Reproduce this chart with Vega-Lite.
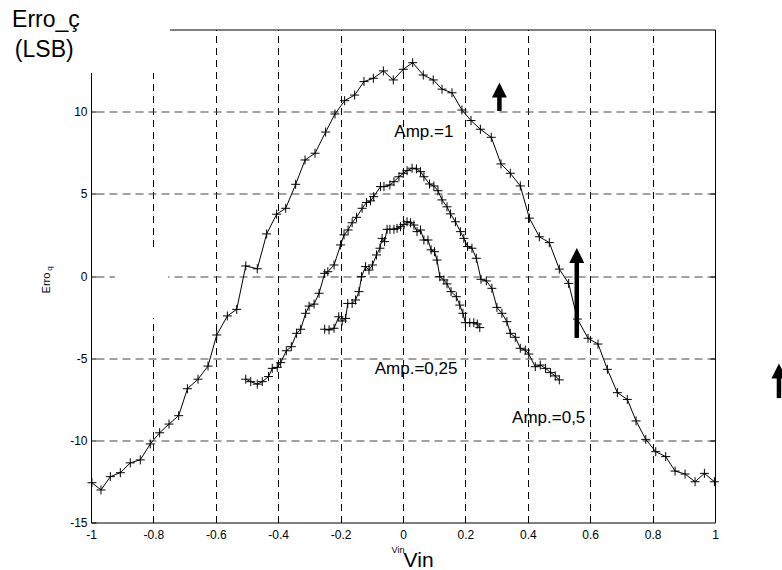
{
"$schema": "https://vega.github.io/schema/vega-lite/v6.json",
"width": 624, "height": 493,
"autosize": {"type": "none"},
"padding": {"left": 91, "top": 29.5, "right": 67, "bottom": 47.5},
"background": "white",
"config": {"view": {"stroke": null}, "font": "Liberation Sans"},
"datasets": {
"curves": [
{"amp":"1","x":-0.997,"y":-12.58},{"amp":"1","x":-0.968,"y":-13.02},{"amp":"1","x":-0.938,"y":-12.21},{"amp":"1","x":-0.906,"y":-11.97},{"amp":"1","x":-0.874,"y":-11.37},{"amp":"1","x":-0.842,"y":-11.19},{"amp":"1","x":-0.81,"y":-10.22},{"amp":"1","x":-0.78,"y":-9.54},{"amp":"1","x":-0.75,"y":-9.01},{"amp":"1","x":-0.719,"y":-8.5},{"amp":"1","x":-0.691,"y":-6.86},{"amp":"1","x":-0.657,"y":-6.28},{"amp":"1","x":-0.625,"y":-5.48},{"amp":"1","x":-0.597,"y":-3.59},{"amp":"1","x":-0.563,"y":-2.43},{"amp":"1","x":-0.533,"y":-2.03},{"amp":"1","x":-0.504,"y":0.61},{"amp":"1","x":-0.467,"y":0.44},{"amp":"1","x":-0.437,"y":2.56},{"amp":"1","x":-0.405,"y":3.76},{"amp":"1","x":-0.376,"y":4.12},{"amp":"1","x":-0.344,"y":5.58},{"amp":"1","x":-0.314,"y":7.06},{"amp":"1","x":-0.282,"y":7.47},{"amp":"1","x":-0.248,"y":8.76},{"amp":"1","x":-0.218,"y":9.86},{"amp":"1","x":-0.187,"y":10.67},{"amp":"1","x":-0.155,"y":11.01},{"amp":"1","x":-0.125,"y":11.83},{"amp":"1","x":-0.095,"y":12.03},{"amp":"1","x":-0.063,"y":12.48},{"amp":"1","x":-0.031,"y":11.93},{"amp":"1","x":0.001,"y":12.58},{"amp":"1","x":0.031,"y":12.98},{"amp":"1","x":0.065,"y":12.23},{"amp":"1","x":0.097,"y":11.93},{"amp":"1","x":0.125,"y":11.37},{"amp":"1","x":0.157,"y":11.15},{"amp":"1","x":0.189,"y":10.1},{"amp":"1","x":0.218,"y":9.46},{"amp":"1","x":0.248,"y":8.93},{"amp":"1","x":0.283,"y":8.44},{"amp":"1","x":0.314,"y":6.82},{"amp":"1","x":0.344,"y":6.25},{"amp":"1","x":0.376,"y":5.48},{"amp":"1","x":0.405,"y":3.52},{"amp":"1","x":0.437,"y":2.39},{"amp":"1","x":0.469,"y":2.03},{"amp":"1","x":0.501,"y":0.42},{"amp":"1","x":0.531,"y":-0.45},{"amp":"1","x":0.559,"y":-2.62},{"amp":"1","x":0.593,"y":-3.79},{"amp":"1","x":0.625,"y":-4.14},{"amp":"1","x":0.655,"y":-5.68},{"amp":"1","x":0.687,"y":-7.1},{"amp":"1","x":0.719,"y":-7.51},{"amp":"1","x":0.747,"y":-8.82},{"amp":"1","x":0.778,"y":-9.94},{"amp":"1","x":0.81,"y":-10.69},{"amp":"1","x":0.842,"y":-10.99},{"amp":"1","x":0.872,"y":-11.87},{"amp":"1","x":0.904,"y":-12.05},{"amp":"1","x":0.936,"y":-12.52},{"amp":"1","x":0.966,"y":-12.01},{"amp":"1","x":0.998,"y":-12.52},
{"amp":"0.5","x":-0.504,"y":-6.28},{"amp":"0.5","x":-0.488,"y":-6.43},{"amp":"0.5","x":-0.467,"y":-6.58},{"amp":"0.5","x":-0.451,"y":-6.43},{"amp":"0.5","x":-0.431,"y":-6.12},{"amp":"0.5","x":-0.419,"y":-5.62},{"amp":"0.5","x":-0.403,"y":-5.56},{"amp":"0.5","x":-0.392,"y":-5.27},{"amp":"0.5","x":-0.374,"y":-4.55},{"amp":"0.5","x":-0.358,"y":-4.3},{"amp":"0.5","x":-0.341,"y":-3.49},{"amp":"0.5","x":-0.328,"y":-3.24},{"amp":"0.5","x":-0.312,"y":-2.27},{"amp":"0.5","x":-0.301,"y":-1.83},{"amp":"0.5","x":-0.285,"y":-1.71},{"amp":"0.5","x":-0.269,"y":-1.05},{"amp":"0.5","x":-0.251,"y":0.16},{"amp":"0.5","x":-0.241,"y":0.26},{"amp":"0.5","x":-0.221,"y":0.67},{"amp":"0.5","x":-0.2,"y":1.89},{"amp":"0.5","x":-0.189,"y":2.5},{"amp":"0.5","x":-0.176,"y":2.8},{"amp":"0.5","x":-0.163,"y":3.24},{"amp":"0.5","x":-0.149,"y":3.57},{"amp":"0.5","x":-0.131,"y":4.12},{"amp":"0.5","x":-0.117,"y":4.47},{"amp":"0.5","x":-0.104,"y":4.57},{"amp":"0.5","x":-0.094,"y":4.83},{"amp":"0.5","x":-0.072,"y":5.44},{"amp":"0.5","x":-0.061,"y":5.44},{"amp":"0.5","x":-0.042,"y":5.54},{"amp":"0.5","x":-0.029,"y":5.74},{"amp":"0.5","x":-0.013,"y":6.04},{"amp":"0.5","x":0.001,"y":6.25},{"amp":"0.5","x":0.013,"y":6.41},{"amp":"0.5","x":0.029,"y":6.56},{"amp":"0.5","x":0.043,"y":6.52},{"amp":"0.5","x":0.056,"y":6.35},{"amp":"0.5","x":0.067,"y":6.04},{"amp":"0.5","x":0.085,"y":5.6},{"amp":"0.5","x":0.099,"y":5.48},{"amp":"0.5","x":0.112,"y":5.19},{"amp":"0.5","x":0.125,"y":4.63},{"amp":"0.5","x":0.141,"y":4.21},{"amp":"0.5","x":0.152,"y":3.78},{"amp":"0.5","x":0.168,"y":3.3},{"amp":"0.5","x":0.184,"y":2.7},{"amp":"0.5","x":0.195,"y":2.29},{"amp":"0.5","x":0.207,"y":1.79},{"amp":"0.5","x":0.221,"y":1.69},{"amp":"0.5","x":0.235,"y":1.08},{"amp":"0.5","x":0.25,"y":-0.2},{"amp":"0.5","x":0.267,"y":-0.3},{"amp":"0.5","x":0.285,"y":-0.75},{"amp":"0.5","x":0.301,"y":-1.91},{"amp":"0.5","x":0.317,"y":-2.27},{"amp":"0.5","x":0.333,"y":-2.78},{"amp":"0.5","x":0.344,"y":-3.49},{"amp":"0.5","x":0.36,"y":-3.73},{"amp":"0.5","x":0.376,"y":-4.4},{"amp":"0.5","x":0.392,"y":-4.51},{"amp":"0.5","x":0.403,"y":-4.75},{"amp":"0.5","x":0.424,"y":-5.52},{"amp":"0.5","x":0.44,"y":-5.42},{"amp":"0.5","x":0.457,"y":-5.62},{"amp":"0.5","x":0.473,"y":-5.88},{"amp":"0.5","x":0.488,"y":-6.08},{"amp":"0.5","x":0.501,"y":-6.32},
{"amp":"0.25","x":-0.251,"y":-3.24},{"amp":"0.25","x":-0.237,"y":-3.28},{"amp":"0.25","x":-0.221,"y":-3.18},{"amp":"0.25","x":-0.206,"y":-2.48},{"amp":"0.25","x":-0.195,"y":-2.74},{"amp":"0.25","x":-0.184,"y":-2.58},{"amp":"0.25","x":-0.177,"y":-1.67},{"amp":"0.25","x":-0.163,"y":-1.67},{"amp":"0.25","x":-0.152,"y":-1.46},{"amp":"0.25","x":-0.141,"y":-0.95},{"amp":"0.25","x":-0.133,"y":-0.04},{"amp":"0.25","x":-0.12,"y":0.57},{"amp":"0.25","x":-0.109,"y":0.36},{"amp":"0.25","x":-0.098,"y":0.67},{"amp":"0.25","x":-0.085,"y":1.28},{"amp":"0.25","x":-0.074,"y":1.69},{"amp":"0.25","x":-0.067,"y":2.29},{"amp":"0.25","x":-0.059,"y":2.09},{"amp":"0.25","x":-0.051,"y":2.84},{"amp":"0.25","x":-0.042,"y":2.84},{"amp":"0.25","x":-0.029,"y":2.84},{"amp":"0.25","x":-0.019,"y":2.9},{"amp":"0.25","x":-0.008,"y":3.0},{"amp":"0.25","x":0.003,"y":3.14},{"amp":"0.25","x":0.013,"y":3.3},{"amp":"0.25","x":0.024,"y":3.24},{"amp":"0.25","x":0.035,"y":3.1},{"amp":"0.25","x":0.045,"y":2.7},{"amp":"0.25","x":0.056,"y":2.8},{"amp":"0.25","x":0.067,"y":2.19},{"amp":"0.25","x":0.08,"y":2.19},{"amp":"0.25","x":0.09,"y":1.59},{"amp":"0.25","x":0.101,"y":1.48},{"amp":"0.25","x":0.109,"y":0.97},{"amp":"0.25","x":0.118,"y":-0.04},{"amp":"0.25","x":0.131,"y":-0.24},{"amp":"0.25","x":0.141,"y":-0.48},{"amp":"0.25","x":0.154,"y":-0.95},{"amp":"0.25","x":0.171,"y":-1.26},{"amp":"0.25","x":0.182,"y":-1.77},{"amp":"0.25","x":0.192,"y":-2.27},{"amp":"0.25","x":0.2,"y":-2.84},{"amp":"0.25","x":0.214,"y":-2.84},{"amp":"0.25","x":0.227,"y":-2.84},{"amp":"0.25","x":0.238,"y":-2.92},{"amp":"0.25","x":0.246,"y":-3.14}
]
},
"layer": [
{
"data": {"name": "curves"},
"mark": {"type": "line", "color": "black", "strokeWidth": 1, "point": {"shape": "M-1,0L1,0M0,-1L0,1", "filled": false, "size": 81, "color": "black", "strokeWidth": 1, "opacity": 1}},
"encoding": {
"x": {"field": "x", "type": "quantitative", "scale": {"domain": [-1, 1], "nice": false},
"axis": {"orient": "bottom", "values": [-1, -0.8, -0.6, -0.4, -0.2, 0, 0.2, 0.4, 0.6, 0.8, 1], "format": "~g", "labelExpr": "replace(datum.label, '\u2212', '-')", "grid": false, "domain": true, "domainColor": "black", "ticks": true, "tickSize": -5, "tickColor": "black", "labelFontSize": 12, "labelColor": "black", "labelPadding": 12, "labelFlush": false, "title": null}},
"y": {"field": "y", "type": "quantitative", "scale": {"domain": [-15, 15], "nice": false},
"axis": {"orient": "left", "values": [-15, -10, -5, 0, 5, 10], "format": "~g", "labelExpr": "replace(datum.label, '\u2212', '-')", "grid": false, "domain": true, "domainColor": "black", "ticks": true, "tickSize": -5, "tickColor": "black", "labelFontSize": 12, "labelColor": "black", "labelPadding": 9, "title": null}},
"detail": {"field": "amp"}
}
},
{
"data": {"values": [{"x": -1.4, "x2": -0.747, "y": 12.36, "y2": 17}, {"x": -0.923, "x2": -0.753, "y": -2.56, "y2": 1.7}]},
"mark": {"type": "rect", "fill": "white", "strokeWidth": 0},
"encoding": {
"x": {"field": "x", "type": "quantitative", "scale": {"domain": [-1, 1], "nice": false},
"axis": {"orient": "top", "values": [-0.8, -0.6, -0.4, -0.2, 0, 0.2, 0.4, 0.6, 0.8], "labels": false, "ticks": false, "domain": true, "domainColor": "black", "grid": true, "gridColor": "black", "gridDash": [7, 5], "gridWidth": 1, "title": null}},
"x2": {"field": "x2"},
"y": {"field": "y", "type": "quantitative", "scale": {"domain": [-15, 15], "nice": false},
"axis": {"orient": "right", "values": [-10, -5, 0, 5, 10], "labels": false, "ticks": true, "tickSize": -5, "tickColor": "black", "domain": true, "domainColor": "black", "grid": true, "gridColor": "#444444", "gridDash": [8, 5], "gridWidth": 1, "title": null}},
"y2": {"field": "y2"}
}
},
{
"data": {"values": [{"x": -1.253, "y": 15.17, "label": "Erro_ç"}, {"x": -1.244, "y": 13.35, "label": "(LSB)"}]},
"mark": {"type": "text", "font": "Liberation Sans", "fontSize": 23, "align": "left", "baseline": "alphabetic", "color": "black"},
"encoding": {"x": {"field": "x", "type": "quantitative", "axis": null}, "y": {"field": "y", "type": "quantitative", "axis": null}, "text": {"field": "label"}}
},
{
"data": {"values": [{"x": 0.067, "y": 8.76, "label": "Amp.=1"}, {"x": 0.042, "y": -5.66, "label": "Amp.=0,25"}, {"x": 0.467, "y": -8.67, "label": "Amp.=0,5"}]},
"mark": {"type": "text", "font": "Liberation Sans", "fontSize": 17, "align": "center", "baseline": "middle", "color": "black"},
"encoding": {"x": {"field": "x", "type": "quantitative", "axis": null}, "y": {"field": "y", "type": "quantitative", "axis": null}, "text": {"field": "label"}}
},
{
"data": {"values": [{"x": 0.05, "y": -17.69, "label": "Vin"}]},
"mark": {"type": "text", "font": "Liberation Sans", "fontSize": 21, "align": "center", "baseline": "alphabetic", "color": "black"},
"encoding": {"x": {"field": "x", "type": "quantitative", "axis": null}, "y": {"field": "y", "type": "quantitative", "axis": null}, "text": {"field": "label"}}
},
{
"data": {"values": [{"x": -0.016, "y": -16.86, "label": "Vin"}]},
"mark": {"type": "text", "font": "Liberation Sans", "fontSize": 9, "align": "center", "baseline": "alphabetic", "color": "black"},
"encoding": {"x": {"field": "x", "type": "quantitative", "axis": null}, "y": {"field": "y", "type": "quantitative", "axis": null}, "text": {"field": "label"}}
},
{
"data": {"values": [{"x": -1.131, "y": -0.43, "label": "Erro"}]},
"mark": {"type": "text", "font": "Liberation Sans", "fontSize": 11, "angle": 270, "align": "center", "baseline": "alphabetic", "color": "black"},
"encoding": {"x": {"field": "x", "type": "quantitative", "axis": null}, "y": {"field": "y", "type": "quantitative", "axis": null}, "text": {"field": "label"}}
},
{
"data": {"values": [{"x": -1.124, "y": 0.45, "label": "q"}]},
"mark": {"type": "text", "font": "Liberation Sans", "fontSize": 8, "angle": 270, "align": "center", "baseline": "alphabetic", "color": "black"},
"encoding": {"x": {"field": "x", "type": "quantitative", "axis": null}, "y": {"field": "y", "type": "quantitative", "axis": null}, "text": {"field": "label"}}
},
{
"data": {"values": [{"x": 0.309, "y": 10.04, "y2": 10.9}, {"x": 0.557, "y": -3.77, "y2": 0.8}, {"x": 1.205, "y": -7.43, "y2": -6.2}]},
"mark": {"type": "rule", "strokeWidth": 4.5, "color": "black"},
"encoding": {"x": {"field": "x", "type": "quantitative", "axis": null}, "y": {"field": "y", "type": "quantitative", "axis": null}, "y2": {"field": "y2"}}
},
{
"data": {"values": [{"x": 0.309, "y": 11.32}, {"x": 0.557, "y": 1.25}, {"x": 1.205, "y": -5.78}]},
"mark": {"type": "point", "shape": "M0,-1L1,1L-1,1Z", "filled": true, "size": 225, "color": "black", "opacity": 1},
"encoding": {"x": {"field": "x", "type": "quantitative", "axis": null}, "y": {"field": "y", "type": "quantitative", "axis": null}}
}
],
"resolve": {"axis": {"x": "independent", "y": "independent"}}
}
